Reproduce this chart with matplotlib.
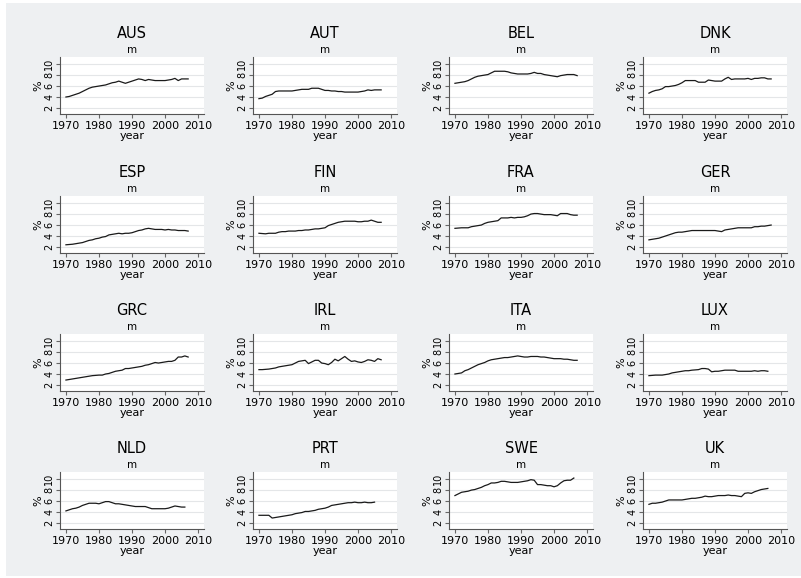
import matplotlib
matplotlib.use("Agg")
import matplotlib.pyplot as plt
from matplotlib.patches import Rectangle

# share of spending, %, by country (yearly from 1970)
countries = ["AUS", "AUT", "BEL", "DNK", "ESP", "FIN", "FRA", "GER",
             "GRC", "IRL", "ITA", "LUX", "NLD", "PRT", "SWE", "UK"]
start_year = 1970

AUS = [4.0, 4.1, 4.3, 4.5, 4.7, 5.0, 5.3, 5.6, 5.8, 5.9, 6.0, 6.1, 6.2, 6.4, 6.6, 6.7, 6.9, 6.7, 6.5,
       6.7, 6.9, 7.1, 7.3, 7.2, 7.0, 7.2, 7.1, 7.0, 7.0, 7.0, 7.0, 7.1, 7.2, 7.4, 7.0, 7.3, 7.3, 7.3]
AUT = [3.7, 3.8, 4.1, 4.3, 4.5, 5.0, 5.1, 5.1, 5.1, 5.1, 5.1, 5.2, 5.3, 5.4, 5.4, 5.4, 5.6, 5.6, 5.6,
       5.4, 5.2, 5.2, 5.1, 5.1, 5.0, 5.0, 4.9, 4.9, 4.9, 4.9, 4.9, 5.0, 5.1, 5.3, 5.2, 5.3, 5.3, 5.3]
BEL = [6.5, 6.6, 6.7, 6.8, 7.0, 7.3, 7.6, 7.8, 7.9, 8.0, 8.1, 8.4, 8.7, 8.7, 8.7, 8.7, 8.6, 8.4, 8.3,
       8.2, 8.2, 8.2, 8.2, 8.3, 8.5, 8.3, 8.3, 8.1, 8.0, 7.9, 7.8, 7.7, 7.9, 8.0, 8.1, 8.1, 8.1, 7.9]
DNK = [4.7, 5.0, 5.2, 5.3, 5.5, 5.9, 5.9, 6.0, 6.1, 6.3, 6.6, 7.0, 7.0, 7.0, 7.0, 6.7, 6.7, 6.7, 7.1,
       7.0, 6.9, 6.9, 6.9, 7.3, 7.6, 7.2, 7.3, 7.3, 7.3, 7.3, 7.4, 7.2, 7.4, 7.4, 7.5, 7.5, 7.3, 7.3]
ESP = [2.4, 2.45, 2.5, 2.6, 2.7, 2.8, 3.0, 3.2, 3.3, 3.5, 3.6, 3.8, 3.9, 4.2, 4.3, 4.4, 4.5, 4.4, 4.5,
       4.5, 4.6, 4.8, 5.0, 5.1, 5.3, 5.4, 5.3, 5.2, 5.2, 5.2, 5.1, 5.2, 5.1, 5.1, 5.0, 5.0, 5.0, 4.9]
FIN = [4.5, 4.45, 4.4, 4.5, 4.5, 4.5, 4.7, 4.8, 4.8, 4.9, 4.9, 4.9, 5.0, 5.0, 5.1, 5.1, 5.2, 5.3, 5.3,
       5.4, 5.5, 5.9, 6.1, 6.3, 6.5, 6.6, 6.7, 6.7, 6.7, 6.7, 6.6, 6.6, 6.7, 6.7, 6.9, 6.7, 6.5, 6.5]
FRA = [5.4, 5.45, 5.5, 5.5, 5.5, 5.7, 5.8, 5.9, 6.0, 6.3, 6.5, 6.6, 6.7, 6.8, 7.3, 7.3, 7.3, 7.4, 7.3,
       7.4, 7.4, 7.5, 7.7, 8.0, 8.1, 8.1, 8.0, 7.9, 7.9, 7.9, 7.8, 7.7, 8.1, 8.1, 8.1, 7.9, 7.8, 7.8]
GER = [3.3, 3.4, 3.5, 3.6, 3.8, 4.0, 4.2, 4.4, 4.6, 4.7, 4.7, 4.8, 4.9, 5.0, 5.0, 5.0, 5.0, 5.0, 5.0,
       5.0, 5.0, 4.9, 4.8, 5.1, 5.2, 5.3, 5.4, 5.5, 5.5, 5.5, 5.5, 5.5, 5.7, 5.7, 5.8, 5.8, 5.9, 6.0]
GRC = [2.9, 3.0, 3.1, 3.2, 3.3, 3.4, 3.5, 3.6, 3.7, 3.75, 3.8, 3.8, 4.0, 4.1, 4.3, 4.5, 4.6, 4.7, 5.0,
       5.0, 5.1, 5.2, 5.3, 5.4, 5.6, 5.7, 5.9, 6.1, 6.0, 6.1, 6.2, 6.3, 6.3, 6.5, 7.1, 7.1, 7.3, 7.1]
IRL = [4.8, 4.8, 4.85, 4.9, 5.0, 5.1, 5.3, 5.4, 5.5, 5.6, 5.7, 6.0, 6.3, 6.4, 6.5, 5.9, 6.2, 6.5, 6.5,
       6.0, 5.9, 5.7, 6.1, 6.7, 6.4, 6.8, 7.2, 6.7, 6.3, 6.4, 6.2, 6.1, 6.3, 6.6, 6.5, 6.3, 6.8, 6.6]
ITA = [4.0, 4.1, 4.2, 4.6, 4.8, 5.1, 5.4, 5.7, 5.9, 6.1, 6.4, 6.6, 6.7, 6.8, 6.9, 7.0, 7.0, 7.1, 7.2,
       7.3, 7.2, 7.1, 7.1, 7.2, 7.2, 7.2, 7.1, 7.1, 7.0, 6.9, 6.8, 6.8, 6.8, 6.7, 6.7, 6.6, 6.5, 6.5]
LUX = [3.7, 3.75, 3.8, 3.8, 3.8, 3.9, 4.0, 4.2, 4.3, 4.4, 4.5, 4.6, 4.6, 4.7, 4.75, 4.8, 5.0, 5.0, 4.9,
       4.4, 4.5, 4.5, 4.6, 4.7, 4.7, 4.7, 4.7, 4.5, 4.5, 4.5, 4.5, 4.5, 4.6, 4.5, 4.6, 4.6, 4.5]
NLD = [4.2, 4.4, 4.6, 4.7, 4.9, 5.2, 5.4, 5.6, 5.6, 5.6, 5.5, 5.7, 5.9, 5.9, 5.7, 5.5, 5.5, 5.4, 5.3,
       5.2, 5.1, 5.0, 5.0, 5.0, 5.0, 4.8, 4.6, 4.6, 4.6, 4.6, 4.6, 4.7, 4.9, 5.1, 5.0, 4.9, 4.9]
PRT = [3.4, 3.4, 3.4, 3.4, 2.9, 3.0, 3.1, 3.2, 3.3, 3.4, 3.5, 3.7, 3.8, 3.9, 4.1, 4.1, 4.2, 4.3, 4.5,
       4.6, 4.7, 4.9, 5.2, 5.3, 5.4, 5.5, 5.6, 5.7, 5.7, 5.8, 5.7, 5.7, 5.8, 5.7, 5.7, 5.8]
SWE = [7.0, 7.3, 7.6, 7.7, 7.8, 8.0, 8.1, 8.3, 8.5, 8.8, 9.0, 9.3, 9.3, 9.4, 9.6, 9.6, 9.5, 9.4, 9.4,
       9.4, 9.5, 9.6, 9.7, 9.9, 9.8, 9.0, 9.0, 8.9, 8.8, 8.8, 8.6, 8.8, 9.3, 9.7, 9.8, 9.8, 10.2]
UK = [5.4, 5.6, 5.6, 5.7, 5.8, 6.0, 6.2, 6.2, 6.2, 6.2, 6.2, 6.3, 6.4, 6.5, 6.5, 6.6, 6.7, 6.9, 6.8,
      6.8, 6.9, 7.0, 7.0, 7.0, 7.1, 7.0, 7.0, 6.9, 6.8, 7.4, 7.5, 7.4, 7.7, 7.9, 8.1, 8.2, 8.3]

series = [AUS, AUT, BEL, DNK, ESP, FIN, FRA, GER, GRC, IRL, ITA, LUX, NLD, PRT, SWE, UK]
yticks = [2, 4, 6, 8, 10]
xticks = [1970, 1980, 1990, 2000, 2010]

W, H = 801, 578
bg = "#eef0f2"
fig = plt.figure(figsize=(W / 100, H / 100), dpi=100, facecolor="white")
# gray graph region with a thin white margin on the left/top/bottom
fig.patches.append(Rectangle((6 / W, 2 / H), 1 - 6 / W, 1 - 5 / H, transform=fig.transFigure,
                             facecolor=bg, edgecolor="none", zorder=-10))

# panel positions in pixels
col_left = [60, 253, 449, 643]
row_top = [57, 196, 334, 472]
pw, ph = 144, 57

for i, (name, vals) in enumerate(zip(countries, series)):
    r, c = divmod(i, 4)
    ax = fig.add_axes([col_left[c] / W, 1 - (row_top[r] + ph) / H, pw / W, ph / H])
    ax.set_facecolor("white")
    years = list(range(start_year, start_year + len(vals)))
    ax.plot(years, vals, color="#1a1a1a", linewidth=0.9)
    ax.set_xlim(1968.2, 2011.8)
    ax.set_ylim(0.9, 11.3)
    ax.set_xticks(xticks)
    ax.set_yticks(yticks)
    ax.tick_params(axis="y", labelsize=7, length=3, pad=1, color="#666666")
    ax.tick_params(axis="x", labelsize=8, length=3, pad=2, color="#666666")
    for lab in ax.get_yticklabels():
        lab.set_rotation(90)
        lab.set_va("center")
        lab.set_ha("right")
    ax.grid(axis="y", color="#e4e6e8", linewidth=0.8)
    ax.set_axisbelow(True)
    for s in ["top", "right"]:
        ax.spines[s].set_visible(False)
    for s in ["left", "bottom"]:
        ax.spines[s].set_color("#555555")
        ax.spines[s].set_linewidth(0.8)
    ax.set_xlabel("year", fontsize=8, labelpad=0)
    ax.set_ylabel("%", fontsize=8, labelpad=1)
    ax.text(0.5, 1.42, name, transform=ax.transAxes, ha="center", va="center", fontsize=10.5)
    ax.text(0.5, 1.13, "m", transform=ax.transAxes, ha="center", va="center", fontsize=7.5)

fig.savefig("out.png", dpi=100, facecolor="white")
